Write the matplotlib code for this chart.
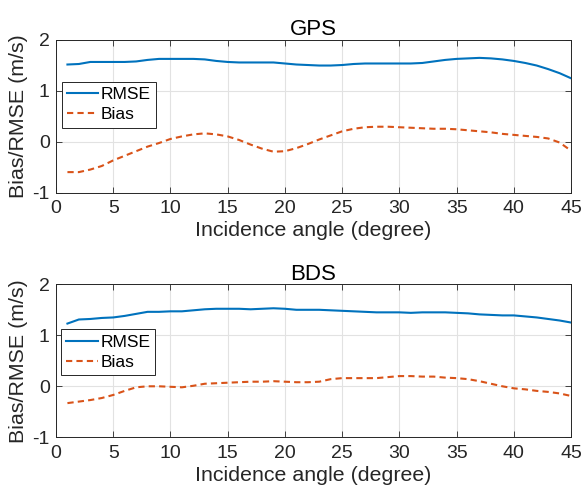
import numpy as np
import matplotlib
matplotlib.use('Agg')
import matplotlib.pyplot as plt

# incidence angle bins (degree)
angle = np.arange(1, 46)

gps_rmse = [1.51, 1.52, 1.56, 1.56, 1.56, 1.56, 1.57, 1.60, 1.62, 1.62,
            1.62, 1.62, 1.61, 1.58, 1.56, 1.55, 1.55, 1.55, 1.55, 1.53,
            1.51, 1.50, 1.49, 1.49, 1.50, 1.52, 1.53, 1.53, 1.53, 1.53,
            1.53, 1.54, 1.57, 1.60, 1.62, 1.63, 1.64, 1.63, 1.61, 1.58,
            1.54, 1.49, 1.42, 1.34, 1.24]
gps_bias = [-0.60, -0.60, -0.55, -0.48, -0.37, -0.28, -0.19, -0.10, -0.03, 0.05,
            0.10, 0.14, 0.16, 0.14, 0.10, 0.03, -0.06, -0.14, -0.20, -0.19,
            -0.13, -0.05, 0.04, 0.12, 0.20, 0.25, 0.28, 0.29, 0.29, 0.28,
            0.27, 0.26, 0.25, 0.25, 0.24, 0.22, 0.20, 0.18, 0.15, 0.13,
            0.11, 0.09, 0.06, -0.02, -0.18]

bds_rmse = [1.23, 1.31, 1.32, 1.34, 1.35, 1.38, 1.42, 1.46, 1.46, 1.47,
            1.47, 1.49, 1.51, 1.52, 1.52, 1.52, 1.51, 1.52, 1.53, 1.52,
            1.50, 1.50, 1.50, 1.49, 1.48, 1.47, 1.46, 1.45, 1.45, 1.45,
            1.44, 1.45, 1.45, 1.45, 1.44, 1.43, 1.41, 1.40, 1.39, 1.39,
            1.37, 1.35, 1.32, 1.29, 1.25]
bds_bias = [-0.33, -0.30, -0.27, -0.23, -0.17, -0.09, -0.02, 0.00, 0.00, -0.01,
            -0.02, 0.01, 0.05, 0.06, 0.07, 0.08, 0.09, 0.09, 0.10, 0.09,
            0.08, 0.08, 0.09, 0.14, 0.16, 0.16, 0.16, 0.16, 0.18, 0.20,
            0.20, 0.19, 0.19, 0.17, 0.16, 0.14, 0.10, 0.05, 0.00, -0.04,
            -0.06, -0.09, -0.11, -0.14, -0.19]

# (title, rmse, bias, axes rect, legend anchor)
panels = [
    ('GPS', gps_rmse, gps_bias, [0.0962, 0.6103, 0.885, 0.3097], (0.011, 0.725)),
    ('BDS', bds_rmse, bds_bias, [0.0962, 0.1148, 0.885, 0.3097], (0.010, 0.706)),
]

plt.rcParams['font.family'] = ['Liberation Sans', 'DejaVu Sans']
plt.rcParams['axes.unicode_minus'] = False

fig = plt.figure(figsize=(5.82, 4.94), dpi=100)

for title, rmse, bias, pos, anchor in panels:
    ax = fig.add_axes(pos)
    ax.plot(angle, rmse, color='#0072BD', linewidth=1.5, label='RMSE')
    ax.plot(angle, bias, color='#D95319', linewidth=1.5,
            linestyle=(0, (3.0, 2.0)), label='Bias')
    ax.set_xlim(0, 45)
    ax.set_ylim(-1, 2)
    ax.set_xticks(np.arange(0, 46, 5))
    ax.set_yticks([-1, 0, 1, 2])
    ax.grid(True, color='#e2e2e2', linewidth=0.8)
    ax.set_axisbelow(True)
    ax.tick_params(direction='in', length=4, labelsize=14, colors='#262626',
                   top=True, right=True, width=0.6)
    ax.tick_params(axis='x', pad=5.5)
    ax.tick_params(axis='y', pad=4.5)
    for s in ax.spines.values():
        s.set_color('#262626')
        s.set_linewidth(0.7)
    ax.set_title(title, fontsize=16, pad=3)
    ax.set_xlabel('Incidence angle (degree)', fontsize=15.4, color='#262626', labelpad=3)
    ax.set_ylabel('Bias/RMSE (m/s)', fontsize=15.4, color='#262626', labelpad=3)
    leg = ax.legend(loc='upper left', bbox_to_anchor=anchor,
                    fontsize=12.5, fancybox=False, framealpha=1,
                    edgecolor='#262626', borderpad=0.3, handlelength=1.8,
                    handletextpad=0.15, labelspacing=0.3, borderaxespad=0)
    leg.get_frame().set_linewidth(0.7)

fig.savefig('out.png', dpi=100)
